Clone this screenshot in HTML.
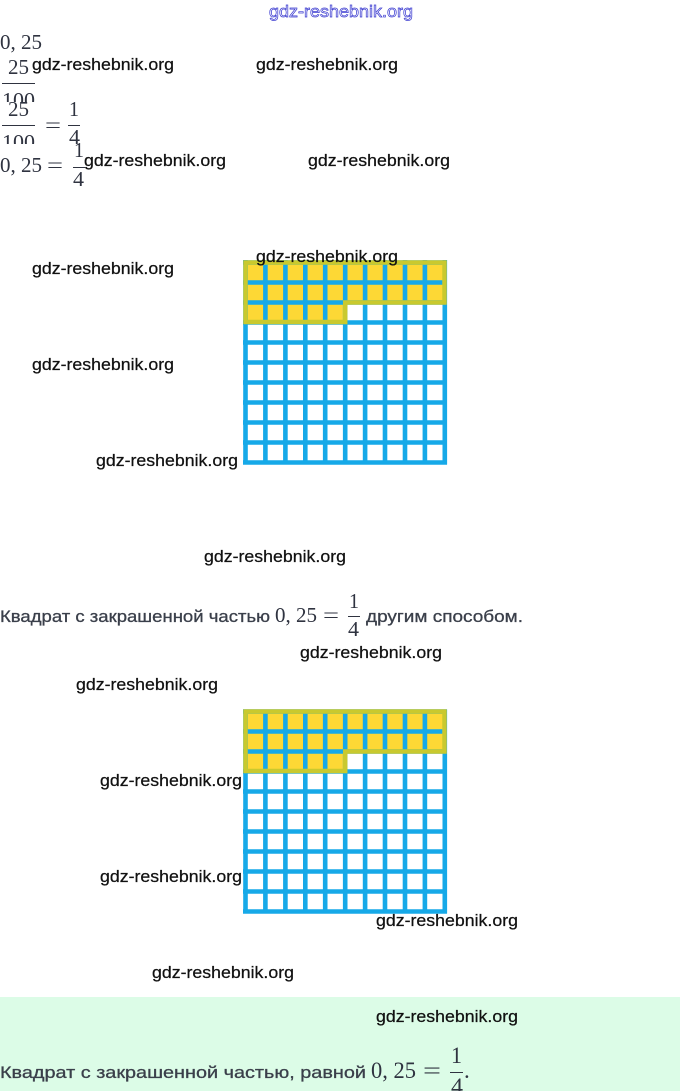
<!DOCTYPE html>
<html><head><meta charset="utf-8"><style>
html,body{margin:0;padding:0;background:#fff;width:680px;height:1091px;overflow:hidden}
svg{display:block}
.w{font-family:"Liberation Sans",sans-serif;font-size:17px;fill:#111;stroke:#111;stroke-width:.25px}
.m{font-family:"Liberation Serif",serif;font-size:21px;fill:#2f3340}
.t{font-family:"Liberation Sans","Noto Sans CJK SC",sans-serif;font-size:17px;fill:#3a3f4a;stroke:#3a3f4a;stroke-width:.3px}
</style></head><body>
<svg width="680" height="1091" viewBox="0 0 680 1091" xmlns="http://www.w3.org/2000/svg">
<defs>
<clipPath id="c1"><rect x="0" y="50" width="100" height="52"/></clipPath>
<clipPath id="c2"><rect x="0" y="102" width="100" height="42"/></clipPath>
<filter id="b" x="-5%" y="-5%" width="110%" height="110%"><feGaussianBlur stdDeviation="0.35"/></filter>
</defs>
<rect x="0" y="997" width="680" height="94" fill="#dcfce7"/>

<text x="269" y="17" font-family="Liberation Sans,sans-serif" font-size="17" fill="#fff" stroke="#3b3bd0" stroke-width="0.7" textLength="144" lengthAdjust="spacingAndGlyphs">gdz-reshebnik.org</text>

<text class="m" x="0" y="49" textLength="42" lengthAdjust="spacingAndGlyphs">0, 25</text>
<g clip-path="url(#c1)">
<text class="m" x="8" y="74" textLength="21" lengthAdjust="spacingAndGlyphs">25</text>
<rect x="2" y="83" width="33" height="1" fill="#2f3340"/>
<text class="m" x="2" y="107" textLength="33" lengthAdjust="spacingAndGlyphs">100</text>
</g>
<g clip-path="url(#c2)">
<text class="m" x="8" y="116" textLength="21" lengthAdjust="spacingAndGlyphs">25</text>
<rect x="2" y="125" width="33" height="1" fill="#2f3340"/>
<text class="m" x="2" y="149" textLength="33" lengthAdjust="spacingAndGlyphs">100</text>
</g>
<text class="m" x="45" y="132" textLength="16" lengthAdjust="spacingAndGlyphs">=</text>
<text class="m" x="69" y="116" textLength="10" lengthAdjust="spacingAndGlyphs">1</text>
<rect x="68" y="125" width="12" height="1" fill="#2f3340"/>
<text class="m" x="69" y="144" textLength="11" lengthAdjust="spacingAndGlyphs">4</text>
<text class="m" x="0" y="172" textLength="42" lengthAdjust="spacingAndGlyphs">0, 25</text>
<text class="m" x="47" y="172" textLength="16" lengthAdjust="spacingAndGlyphs">=</text>
<text class="m" x="74" y="157" textLength="10" lengthAdjust="spacingAndGlyphs">1</text>
<rect x="73" y="167" width="12" height="1" fill="#2f3340"/>
<text class="m" x="73" y="186" textLength="11" lengthAdjust="spacingAndGlyphs">4</text>

<!-- grid 1 -->
<g filter="url(#b)">
<rect x="245" y="262" width="200" height="60" fill="#fdd835"/>
<rect x="345" y="302" width="100" height="20" fill="#fff"/>
<path d="M245.5 260V464.5M265.4 260V464.5M285.4 260V464.5M305.3 260V464.5M325.2 260V464.5M345.2 260V464.5M365.1 260V464.5M385 260V464.5M405 260V464.5M424.9 260V464.5M444.8 260V464.5" stroke="#12a9e8" stroke-width="4.6" fill="none"/>
<path d="M243 262.5H447M243 282.5H447M243 302.5H447M243 322.5H447M243 342.5H447M243 362.5H447M243 382.5H447M243 402.5H447M243 422.5H447M243 442.5H447M243 462.5H447" stroke="#12a9e8" stroke-width="4.4" fill="none"/>
<path d="M245.5 262.5H444.5V302.5H345.2V322H245.5Z" fill="none" stroke="#c9c92e" stroke-width="4.5"/>
</g>
<!-- grid 2 -->
<g filter="url(#b)">
<rect x="245" y="712" width="200" height="60" fill="#fdd835"/>
<rect x="345" y="752" width="100" height="20" fill="#fff"/>
<path d="M245.5 709.5V913.5M265.4 709.5V913.5M285.4 709.5V913.5M305.3 709.5V913.5M325.2 709.5V913.5M345.2 709.5V913.5M365.1 709.5V913.5M385 709.5V913.5M405 709.5V913.5M424.9 709.5V913.5M444.8 709.5V913.5" stroke="#12a9e8" stroke-width="4.6" fill="none"/>
<path d="M243 711.5H447M243 731.5H447M243 751.5H447M243 771.5H447M243 791.5H447M243 811.5H447M243 831.5H447M243 851.5H447M243 871.5H447M243 891.5H447M243 911.5H447" stroke="#12a9e8" stroke-width="4.4" fill="none"/>
<path d="M245.5 711.5H444.5V751.5H345.2V771H245.5Z" fill="none" stroke="#c9c92e" stroke-width="4.5"/>
</g>

<text class="t" x="0" y="622" textLength="270" lengthAdjust="spacingAndGlyphs">Квадрат с закрашенной частью</text>
<text class="m" x="275" y="622" textLength="42" lengthAdjust="spacingAndGlyphs">0, 25</text>
<text class="m" x="323" y="622" textLength="16" lengthAdjust="spacingAndGlyphs">=</text>
<text class="m" x="349" y="608" textLength="10" lengthAdjust="spacingAndGlyphs">1</text>
<rect x="348" y="616" width="12" height="1" fill="#2f3340"/>
<text class="m" x="348" y="636" textLength="11" lengthAdjust="spacingAndGlyphs">4</text>
<text class="t" x="366" y="622" textLength="157" lengthAdjust="spacingAndGlyphs">другим способом.</text>

<text class="t" x="0" y="1078" textLength="366" lengthAdjust="spacingAndGlyphs">Квадрат с закрашенной частью, равной</text>
<text class="m" x="371" y="1078" style="font-size:23px" textLength="45" lengthAdjust="spacingAndGlyphs">0, 25</text>
<text class="m" x="423" y="1078" style="font-size:23px" textLength="18" lengthAdjust="spacingAndGlyphs">=</text>
<text class="m" x="451" y="1063" style="font-size:23px" textLength="11" lengthAdjust="spacingAndGlyphs">1</text>
<rect x="450" y="1072" width="13" height="1" fill="#2f3340"/>
<text class="m" x="451" y="1094" style="font-size:23px" textLength="12" lengthAdjust="spacingAndGlyphs">4</text>
<text class="m" x="464" y="1078" style="font-size:23px">.</text>

<g>
<text class="w" x="32" y="70" textLength="142" lengthAdjust="spacingAndGlyphs">gdz-reshebnik.org</text>
<text class="w" x="256" y="70" textLength="142" lengthAdjust="spacingAndGlyphs">gdz-reshebnik.org</text>
<text class="w" x="84" y="166" textLength="142" lengthAdjust="spacingAndGlyphs">gdz-reshebnik.org</text>
<text class="w" x="308" y="166" textLength="142" lengthAdjust="spacingAndGlyphs">gdz-reshebnik.org</text>
<text class="w" x="256" y="262" textLength="142" lengthAdjust="spacingAndGlyphs">gdz-reshebnik.org</text>
<text class="w" x="32" y="274" textLength="142" lengthAdjust="spacingAndGlyphs">gdz-reshebnik.org</text>
<text class="w" x="32" y="370" textLength="142" lengthAdjust="spacingAndGlyphs">gdz-reshebnik.org</text>
<text class="w" x="96" y="466" textLength="142" lengthAdjust="spacingAndGlyphs">gdz-reshebnik.org</text>
<text class="w" x="204" y="562" textLength="142" lengthAdjust="spacingAndGlyphs">gdz-reshebnik.org</text>
<text class="w" x="300" y="658" textLength="142" lengthAdjust="spacingAndGlyphs">gdz-reshebnik.org</text>
<text class="w" x="76" y="690" textLength="142" lengthAdjust="spacingAndGlyphs">gdz-reshebnik.org</text>
<text class="w" x="100" y="786" textLength="142" lengthAdjust="spacingAndGlyphs">gdz-reshebnik.org</text>
<text class="w" x="100" y="882" textLength="142" lengthAdjust="spacingAndGlyphs">gdz-reshebnik.org</text>
<text class="w" x="376" y="926" textLength="142" lengthAdjust="spacingAndGlyphs">gdz-reshebnik.org</text>
<text class="w" x="152" y="978" textLength="142" lengthAdjust="spacingAndGlyphs">gdz-reshebnik.org</text>
<text class="w" x="376" y="1022" textLength="142" lengthAdjust="spacingAndGlyphs">gdz-reshebnik.org</text>
</g>
</svg>
</body></html>
